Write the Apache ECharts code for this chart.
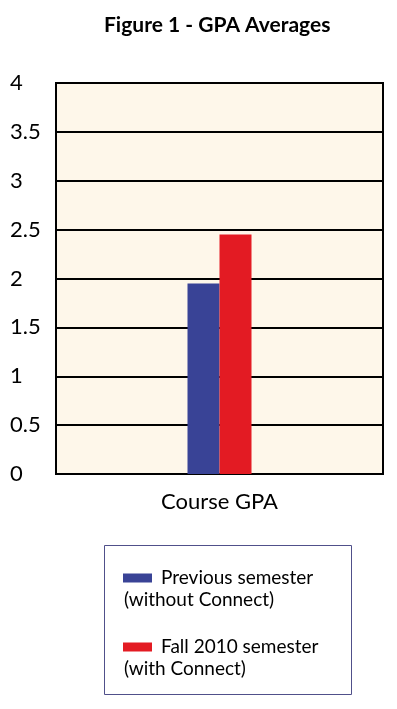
<!DOCTYPE html>
<html>
<head>
<meta charset="utf-8">
<script src="https://cdn.jsdelivr.net/npm/echarts@6/dist/echarts.min.js"></script>
<style>
html,body{margin:0;padding:0;background:#fff;}
#chart{width:397px;height:709px;}
</style>
</head>
<body>
<div id="chart"></div>
<script>
var categories = ['Course GPA'];
var previousValues = [1.95];
var fallValues = [2.45];
var seriesNames = ['Previous semester', 'Fall 2010 semester'];
var seriesSubtitles = ['(without Connect)', '(with Connect)'];
var seriesColors = ['#394396', '#E31B23'];
var yTicks = [0, 0.5, 1, 1.5, 2, 2.5, 3, 3.5, 4];

var FONT = 'Lato, "Open Sans", sans-serif';
var chart = echarts.init(document.getElementById('chart'));
chart.setOption({
  backgroundColor: '#ffffff',
  animation: false,
  title: {
    text: 'Figure 1 - GPA Averages',
    left: 99,
    top: 10,
    textStyle: {fontFamily: FONT, fontWeight: 'bold', fontSize: 21, color: '#000'}
  },
  grid: {
    left: 56, right: 14, top: 83, bottom: 235,
    show: true, backgroundColor: '#FEF7EA', borderColor: '#000', borderWidth: 2
  },
  xAxis: {
    type: 'category',
    data: categories,
    axisLine: {show: true, lineStyle: {color: '#000', width: 2}},
    axisTick: {show: false},
    axisLabel: {fontFamily: FONT, fontSize: 22, color: '#000', margin: 17}
  },
  yAxis: {
    type: 'value',
    min: yTicks[0], max: yTicks[yTicks.length - 1], interval: 0.5,
    axisLine: {show: false},
    axisTick: {show: false},
    splitLine: {show: true, lineStyle: {color: '#000', width: 2}},
    axisLabel: {
      fontFamily: FONT, fontSize: 22, color: '#000', align: 'left', margin: 46,
      padding: [0, 0, 7, 0]
    }
  },
  legend: {
    orient: 'vertical',
    left: 123, top: 568, padding: 0,
    itemWidth: 29, itemHeight: 9, itemGap: 49,
    icon: 'rect',
    textStyle: {fontFamily: FONT, fontSize: 19, lineHeight: 20, color: '#000', padding: [0, 0, 0, 4]},
    data: seriesNames
  },
  graphic: [
    {type: 'rect', shape: {x: 104.5, y: 545.5, width: 247, height: 149},
     style: {fill: 'none', stroke: '#50508A', lineWidth: 1}},
    {type: 'text', left: 124, top: 590, style: {text: seriesSubtitles[0], font: '19px ' + FONT, fill: '#000'}},
    {type: 'text', left: 124, top: 659, style: {text: seriesSubtitles[1], font: '19px ' + FONT, fill: '#000'}}
  ],
  series: [
    {name: seriesNames[0], type: 'bar', data: previousValues, barWidth: 32, barGap: '0%',
     itemStyle: {color: seriesColors[0]}},
    {name: seriesNames[1], type: 'bar', data: fallValues, barWidth: 32, barGap: '0%',
     itemStyle: {color: seriesColors[1]}}
  ]
});
</script>
</body>
</html>
